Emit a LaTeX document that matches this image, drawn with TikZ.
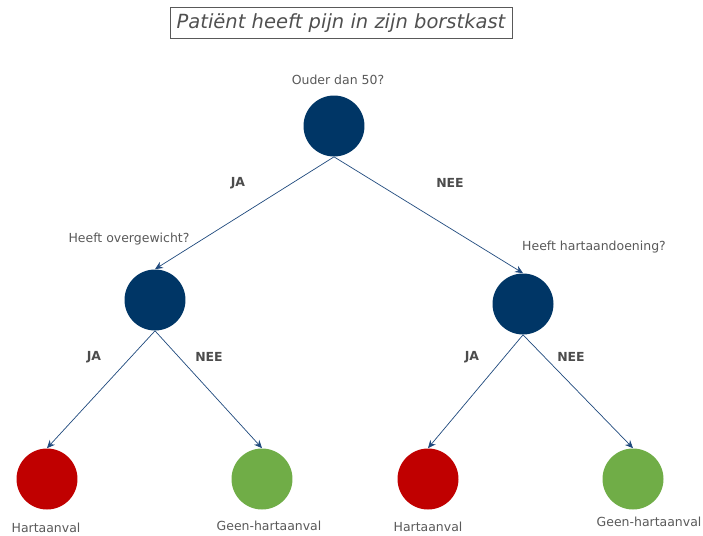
\documentclass[tikz,border=0pt]{standalone}
\usepackage{fontspec}
\setmainfont{DejaVu Sans}
\usetikzlibrary{arrows.meta}

\definecolor{navy}{RGB}{0,54,102}
\definecolor{redleaf}{RGB}{192,0,0}
\definecolor{greenleaf}{RGB}{112,173,71}
\definecolor{txtgray}{RGB}{89,89,89}
\definecolor{arrblue}{RGB}{31,73,125}

\begin{document}
\begin{tikzpicture}[x=0.02cm, y=-0.02cm,
    ball/.style={circle, minimum size=1.22cm, inner sep=0pt},
    question/.style={text=txtgray, font=\fontsize{7.1}{8.5}\selectfont},
    answer/.style={text=txtgray!85!black, font=\bfseries\fontsize{7.1}{8.5}\selectfont},
    arr/.style={arrblue, line width=0.4pt, -{Stealth[length=4.5pt, width=4pt]}}]
    \useasboundingbox (0,0) rectangle (703,535);

    % Title box
    \node[draw=txtgray, line width=0.5pt, minimum width=6.84cm, minimum height=0.6cm,
          text=txtgray!90!black, font=\itshape\fontsize{11.1}{13}\selectfont] (title) at (341,23)
          {Patiënt heeft pijn in zijn borstkast};

    % Decision nodes
    \node[ball, fill=navy] (root) at (334,126) {};
    \node[ball, fill=navy] (fat) at (155,300) {};
    \node[ball, fill=navy] (heart) at (523,304) {};

    % Leaves
    \node[ball, fill=redleaf] (leafA) at (47,479) {};
    \node[ball, fill=greenleaf] (leafB) at (262,479) {};
    \node[ball, fill=redleaf] (leafC) at (428,479) {};
    \node[ball, fill=greenleaf] (leafD) at (633,479) {};

    % Questions
    \node[question] (qroot) at (338,80) {Ouder dan 50?};
    \node[question] (qfat) at (129,239) {Heeft overgewicht?};
    \node[question] (qheart) at (594,247) {Heeft hartaandoening?};

    % Outcomes
    \node[question] (oA) at (46,528) {Hartaanval};
    \node[question] (oB) at (269,526) {Geen-hartaanval};
    \node[question] (oC) at (428,527) {Hartaanval};
    \node[question] (oD) at (649,522) {Geen-hartaanval};

    % Branches
    \draw[arr] (root.south) -- (fat.north);
    \draw[arr] (root.south) -- (heart.north);
    \draw[arr] (fat.south) -- (leafA.north);
    \draw[arr] (fat.south) -- (leafB.north);
    \draw[arr] (heart.south) -- (leafC.north);
    \draw[arr] (heart.south) -- (leafD.north);

    % Branch labels
    \node[answer] (ja1) at (238,183) {JA};
    \node[answer] (nee1) at (450,183) {NEE};
    \node[answer] (ja2) at (94,357) {JA};
    \node[answer] (nee2) at (209,357) {NEE};
    \node[answer] (ja3) at (472,357) {JA};
    \node[answer] (nee3) at (571,357) {NEE};
\end{tikzpicture}
\end{document}
